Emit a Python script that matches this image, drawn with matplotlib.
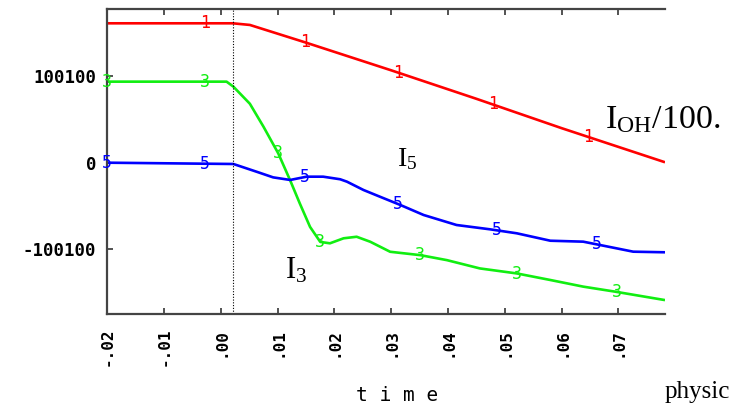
import numpy as np
import matplotlib
matplotlib.use("Agg")
import matplotlib.pyplot as plt

# curves: time vs intensity (I_OH scaled by 1/100)
t_oh = [-0.02, 0.0021, 0.0051, 0.0148, 0.030, 0.045, 0.060, 0.0782]
i_oh = [161.5, 161.5, 159.6, 139.5, 107.0, 74.0, 40.0, 0.5]

t_3 = [-0.02, 0.0010, 0.0022, 0.0051, 0.0075, 0.0101, 0.0122, 0.0139, 0.0157,
       0.0175, 0.0192, 0.0216, 0.0239, 0.0263, 0.0298, 0.0351, 0.0398, 0.0456,
       0.0521, 0.0580, 0.0638, 0.0694, 0.0782]
i_3 = [93.9, 93.9, 88.1, 68.3, 41.7, 10.8, -20.5, -47.3, -74.4,
       -91.8, -93.4, -87.6, -85.8, -91.6, -103.2, -107.1, -112.9, -122.5,
       -128.3, -135.9, -143.6, -149.4, -159.2]

t_5 = [-0.02, 0.0022, 0.0063, 0.0092, 0.0122, 0.0151, 0.0180, 0.0210, 0.0222,
       0.0251, 0.0280, 0.0316, 0.0357, 0.0415, 0.0474, 0.0521, 0.0580, 0.0638,
       0.0667, 0.0726, 0.0782]
i_5 = [0.0, -1.5, -10.5, -17.0, -20.0, -16.2, -16.2, -19.2, -22.0,
       -31.6, -39.4, -49.0, -60.6, -72.2, -77.2, -81.8, -90.4, -91.5,
       -95.3, -103.1, -103.8]

# where the curve numbers are printed
mark_oh = [-0.0028, 0.0148, 0.0312, 0.0479, 0.0647]
mark_3 = [-0.02, -0.0028, 0.0101, 0.0175, 0.0351, 0.0522, 0.0698]
mark_5 = [-0.02, -0.0028, 0.0148, 0.0312, 0.0486, 0.0662]

xticks = [-0.02, -0.01, 0.0, 0.01, 0.02, 0.03, 0.04, 0.05, 0.06, 0.07]
xlabels = ['-.02', '-.01', '.00', '.01', '.02', '.03', '.04', '.05', '.06', '.07']
yticks = [-100, 0, 100]
ylabels = ['-100100', '0', '100100']
t_switch = 0.0021

plt.rcParams['mathtext.fontset'] = 'custom'
plt.rcParams['mathtext.rm'] = 'Liberation Serif'
plt.rcParams['mathtext.it'] = 'Liberation Serif:italic'

fig = plt.figure(figsize=(7.34, 4.08), dpi=100)
ax = fig.add_axes([0.1462, 0.2304, 0.906 - 0.1462, 0.978 - 0.2304])

red, green, blue = '#ff0000', '#11ee11', '#0000ff'
for t, v, c, marks, num in [(t_oh, i_oh, red, mark_oh, '1'),
                            (t_3, i_3, green, mark_3, '3'),
                            (t_5, i_5, blue, mark_5, '5')]:
    ax.plot(t, v, color=c, lw=1.9, solid_capstyle='butt')
    for m in marks:
        ax.text(m, np.interp(m, t, v), num, color=c, ha='center', va='center',
                fontsize=12, family='DejaVu Sans Mono', clip_on=False)

ax.axvline(t_switch, color='black', lw=0.8, ls=(0, (1, 1.5)))

ax.set_xlim(-0.02, 0.0782)
ax.set_ylim(-175.3, 178.1)

ax.set_xticks(xticks)
ax.set_xticklabels(xlabels, rotation=90, family='DejaVu Sans Mono',
                   fontweight='bold', fontsize=11.5)
ax.set_yticks(yticks)
ax.set_yticklabels(ylabels, family='DejaVu Sans Mono', fontweight='bold',
                   fontsize=12.5)

ax.tick_params(axis='x', direction='in', top=True, length=4.5, width=1.3,
               color='#444444', pad=10)
ax.tick_params(axis='y', direction='in', right=False, length=4.5, width=1.3,
               color='#444444', pad=8)
ax.spines['right'].set_visible(False)
for s in ['left', 'top', 'bottom']:
    ax.spines[s].set_color('#444444')
    ax.spines[s].set_linewidth(1.6)

fig.text(0.541, 0.018, 't i m e', family='DejaVu Sans Mono', fontsize=14,
         ha='center', va='baseline')

# curve labels
ax.text(0.0677, 40, r'$\mathrm{I}_{\mathrm{OH}}$/100.', family='Liberation Serif',
        fontsize=24.5, ha='left', va='baseline')
ax.text(0.0310, -3.8, r'$\mathrm{I}_{5}$', fontsize=20, ha='left', va='baseline')
ax.text(0.0113, -133.6, r'$\mathrm{I}_{3}$', fontsize=22, ha='left', va='baseline')

fig.text(665 / 734, 1 - 398 / 408, 'physic', family='Liberation Serif',
         fontsize=18, ha='left', va='baseline')

fig.savefig('out.png', dpi=100)
